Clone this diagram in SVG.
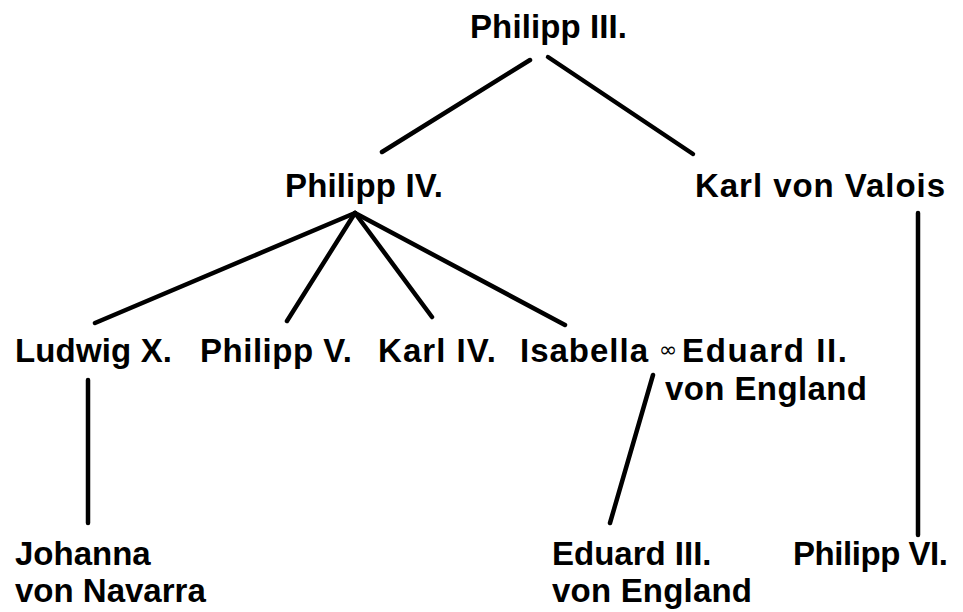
<svg xmlns="http://www.w3.org/2000/svg" width="963" height="612" viewBox="0 0 963 612">
  <style>
    .lbl { font-family: "Liberation Sans", Arial, sans-serif; font-weight: bold; font-size: 33px; fill: #000; }
    .marr { font-family: "DejaVu Sans", "Liberation Sans", sans-serif; font-size: 22px; fill: #000; }
    .edge { stroke: #000; stroke-width: 4.5; stroke-linecap: round; fill: none; }
  </style>
  <rect width="963" height="612" fill="#fff"/>

  <g id="connectors">
    <line class="edge" x1="530" y1="60" x2="382" y2="152"/>
    <line class="edge" x1="548" y1="57" x2="693" y2="154"/>
    <line class="edge" x1="355" y1="213" x2="95" y2="323"/>
    <line class="edge" x1="355" y1="213" x2="287" y2="321"/>
    <line class="edge" x1="355" y1="213" x2="432" y2="317"/>
    <line class="edge" x1="355" y1="213" x2="565" y2="325"/>
    <line class="edge" x1="918" y1="213" x2="918" y2="535"/>
    <line class="edge" x1="88" y1="380" x2="88" y2="523"/>
    <line class="edge" x1="653" y1="375" x2="610" y2="523"/>
  </g>

  <g id="philipp3"><text class="lbl" x="470" y="38" textLength="157" lengthAdjust="spacing">Philipp III.</text></g>
  <g id="philipp4"><text class="lbl" x="285" y="197" textLength="158" lengthAdjust="spacing">Philipp IV.</text></g>
  <g id="karl-valois"><text class="lbl" x="695" y="197" textLength="250" lengthAdjust="spacing">Karl von Valois</text></g>
  <g id="ludwig10"><text class="lbl" x="15" y="362" textLength="157" lengthAdjust="spacing">Ludwig X.</text></g>
  <g id="philipp5"><text class="lbl" x="200" y="362" textLength="152" lengthAdjust="spacing">Philipp V.</text></g>
  <g id="karl4"><text class="lbl" x="378" y="362" textLength="118" lengthAdjust="spacing">Karl IV.</text></g>
  <g id="isabella-eduard2">
    <text class="lbl" x="520" y="362" textLength="128" lengthAdjust="spacing">Isabella</text>
    <text class="marr" x="659" y="357">∞</text>
    <text class="lbl" x="682" y="362" textLength="165" lengthAdjust="spacing">Eduard II.</text>
    <text class="lbl" x="665" y="400" textLength="202" lengthAdjust="spacing">von England</text>
  </g>
  <g id="johanna">
    <text class="lbl" x="15" y="565">Johanna</text>
    <text class="lbl" x="15" y="602">von Navarra</text>
  </g>
  <g id="eduard3">
    <text class="lbl" x="552" y="565">Eduard III.</text>
    <text class="lbl" x="552" y="602" textLength="200" lengthAdjust="spacing">von England</text>
  </g>
  <g id="philipp6"><text class="lbl" x="793" y="565" textLength="155" lengthAdjust="spacing">Philipp VI.</text></g>
</svg>
